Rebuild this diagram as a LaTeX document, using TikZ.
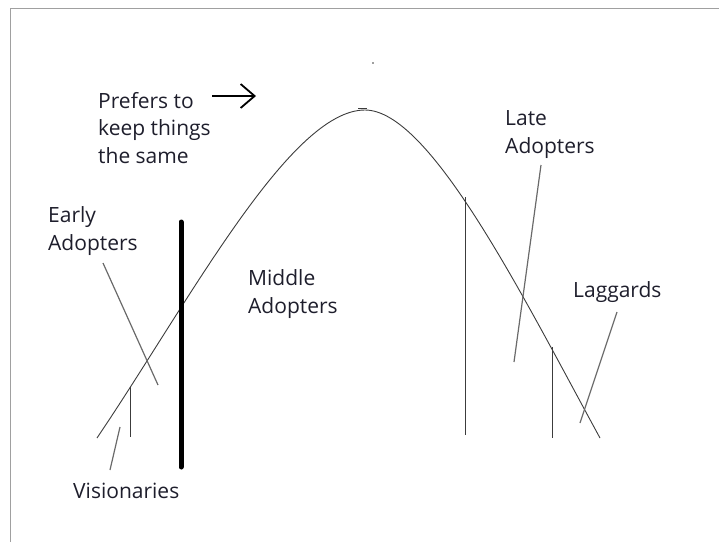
\documentclass[tikz,border=0pt]{standalone}
\usepackage{fontspec}
\setmainfont{Open Sans}
\usetikzlibrary{arrows.meta}
\definecolor{Ink}{HTML}{1E1E2C}
\definecolor{CurveGray}{HTML}{3C3C3C}
\definecolor{PointerGray}{HTML}{6A6A6A}
\definecolor{FrameGray}{HTML}{A0A0A0}
\tikzset{
  adoptLabel/.style={anchor=base west,align=left,inner sep=0pt,text=Ink,
    font=\fontsize{21}{27.5}\selectfont},
  bellCurve/.style={draw=CurveGray,line width=.9pt},
  divider/.style={draw=CurveGray,line width=.9pt},
  pointer/.style={draw=PointerGray,line width=1.2pt},
  chasm/.style={draw=black,line width=5pt,line cap=round},
  frameLine/.style={draw=FrameGray,line width=1pt},
  hintArrow/.style={-{Straight Barb[length=14pt,width=24pt]},draw=black,line width=1.8pt}
}

\begin{document}
\begin{tikzpicture}[x=1pt,y=-1pt]
  \useasboundingbox (0,0) rectangle (719,542);
  \draw[frameLine] (10.5,542) -- (10.5,8.5) -- (719,8.5);
  \draw[bellCurve] (97,438) .. controls (190,300) and (290,110) .. (365,110)
    .. controls (430,110) and (522,295) .. (600,438);
  \draw[bellCurve] (358,108) -- (367,108);
  \fill[CurveGray] (373,63) circle (.8);
  \node[adoptLabel] (prefers) at (98,163) {Prefers to\\keep things\\the same};
  \node[adoptLabel] (early) at (48,250) {Early\\Adopters};
  \node[adoptLabel] (middle) at (248,313) {Middle\\Adopters};
  \node[adoptLabel] (late) at (505,153) {Late\\Adopters};
  \node[adoptLabel] (laggards) at (573,297) {Laggards};
  \node[adoptLabel] (visionaries) at (73,498) {Visionaries};
  \coordinate (arrowTail) at (212,96);
  \coordinate (arrowTip) at (256,96);
  \coordinate (earlyTop) at (103,263);
  \coordinate (earlyEnd) at (158,385);
  \coordinate (visTop) at (120,427);
  \coordinate (visEnd) at (110,470);
  \coordinate (lateTop) at (541,165);
  \coordinate (lateEnd) at (514,362);
  \coordinate (lagTop) at (617,312);
  \coordinate (lagEnd) at (580,423);
  \coordinate (visCut) at (130,387);
  \coordinate (visBase) at (130,437);
  \coordinate (lateCut) at (465,197);
  \coordinate (lateBase) at (465,435);
  \coordinate (lagCut) at (552,347);
  \coordinate (lagBase) at (552,438);
  \coordinate (chasmTop) at (181,222);
  \coordinate (chasmBase) at (181,467);
  \draw[hintArrow] (arrowTail) -- (arrowTip);
  \foreach \a/\b in {earlyTop/earlyEnd,visTop/visEnd,lateTop/lateEnd,lagTop/lagEnd}
    {\draw[pointer] (\a) -- (\b);}
  \foreach \a/\b in {visCut/visBase,lateCut/lateBase,lagCut/lagBase}
    {\draw[divider] (\a) -- (\b);}
  \draw[chasm] (chasmTop) -- (chasmBase);
\end{tikzpicture}
\end{document}
